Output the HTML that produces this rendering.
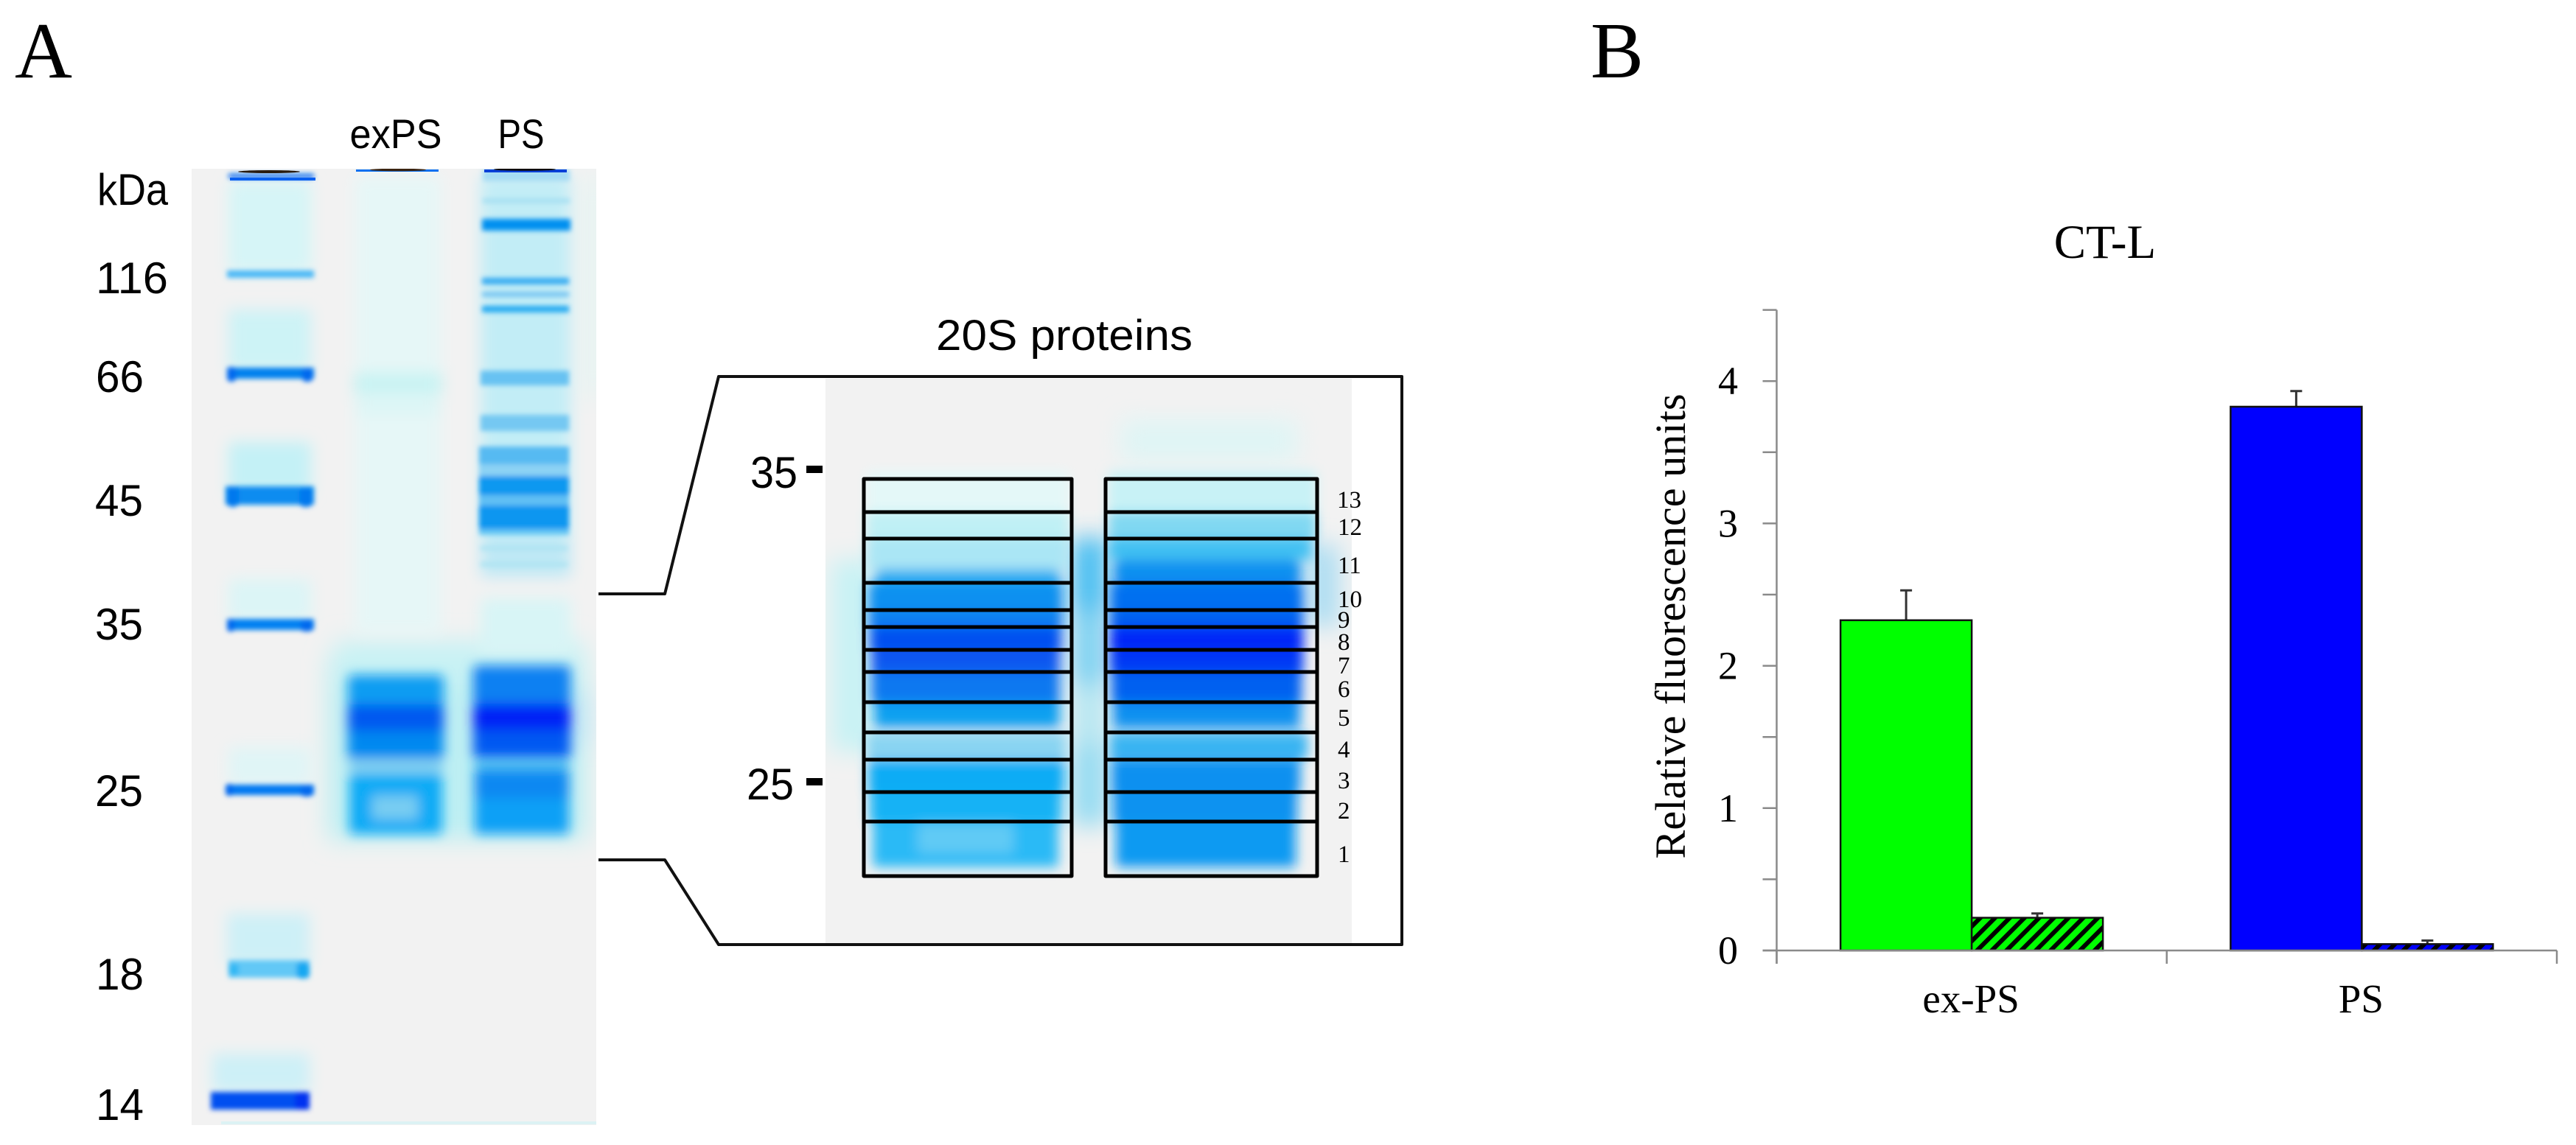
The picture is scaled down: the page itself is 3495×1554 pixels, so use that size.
<!DOCTYPE html>
<html lang="en">
<head>
<meta charset="utf-8">
<title>20S proteasome gel and CT-L activity</title>
<style>
html,body{margin:0;padding:0;background:#fff;width:3495px;height:1554px;overflow:hidden}
svg{display:block}
.sans{font-family:"Liberation Sans",sans-serif;fill:#000}
.serif{font-family:"Liberation Serif",serif;fill:#000}
</style>
</head>
<body>
<svg id="figure" xmlns="http://www.w3.org/2000/svg" width="3495" height="1554" viewBox="0 0 3495 1554">
<defs>
<filter id="b22" x="-50%" y="-50%" width="200%" height="200%"><feGaussianBlur stdDeviation="16"/></filter>
<filter id="b12" x="-30%" y="-30%" width="160%" height="160%"><feGaussianBlur stdDeviation="10"/></filter>
<filter id="b8" x="-30%" y="-50%" width="160%" height="200%"><feGaussianBlur stdDeviation="8"/></filter>
<filter id="b3" x="-20%" y="-150%" width="140%" height="400%"><feGaussianBlur stdDeviation="3.4"/></filter>
<clipPath id="gelClip"><rect x="260" y="229" width="549" height="1298"/></clipPath>
<clipPath id="insetClip"><rect x="1120" y="514" width="714" height="766"/></clipPath>
<pattern id="hatch-green" width="14.1" height="14.1" patternUnits="userSpaceOnUse" patternTransform="rotate(45)"><rect width="14.1" height="14.1" fill="#00ff00"/><rect width="6" height="14.1" fill="#000"/></pattern>
<pattern id="hatch-blue" width="14.1" height="14.1" patternUnits="userSpaceOnUse" patternTransform="rotate(45)"><rect width="14.1" height="14.1" fill="#0000ff"/><rect width="6" height="14.1" fill="#000"/></pattern>
</defs>
<rect x="0" y="0" width="3495" height="1554" fill="#fff"/>

<text class="serif" x="20" y="105" font-size="108">A</text>
<text class="serif" x="2158" y="105" font-size="108">B</text>

<!-- Gel -->
<g>
<rect x="260" y="229" width="549" height="1298" fill="#f2f2f2"/>
<g clip-path="url(#gelClip)">
<g filter="url(#b22)">
<rect x="445" y="890" width="350" height="250" fill="#bdeff3"/>
<rect x="455" y="870" width="335" height="60" fill="#c8f2f4"/>
<rect x="730" y="940" width="70" height="70" fill="#b8e6f4"/>
<rect x="790" y="240" width="30" height="300" fill="#e6f4f3"/>
</g>
<g filter="url(#b12)">
<rect x="310" y="246" width="112" height="124" fill="#d6f5f7"/>
<rect x="310" y="420" width="112" height="84" fill="#cdf3f6"/>
<rect x="310" y="600" width="112" height="72" fill="#c4f1f6"/>
<rect x="310" y="786" width="112" height="58" fill="#dcf5f6"/>
<rect x="310" y="1014" width="112" height="54" fill="#e0f5f6"/>
<rect x="308" y="1240" width="112" height="70" fill="#cdf0f7"/>
<rect x="288" y="1430" width="132" height="54" fill="#cdf0f7"/>
<rect x="482" y="240" width="116" height="620" fill="#e6f7f7"/>
<rect x="480" y="506" width="120" height="30" fill="#c8f3f3"/>
<rect x="482" y="546" width="116" height="14" fill="#d8f5f5"/>
<rect x="652" y="238" width="122" height="490" fill="#c2edf6"/>
<rect x="652" y="728" width="122" height="55" fill="#bee8f5"/>
<rect x="652" y="812" width="122" height="76" fill="#d8f5f6"/>
</g>
<g filter="url(#b3)">
<rect x="310" y="236" width="116" height="6" fill="#0a6ef2"/>
<rect x="308" y="367" width="118" height="10" fill="#4ab8f6"/>
<rect x="308" y="499" width="118" height="15" fill="#0480ee"/>
<rect x="306" y="660" width="120" height="25" fill="#0a8cf0"/>
<rect x="308" y="840" width="118" height="15" fill="#0680f2"/>
<rect x="308" y="1065" width="118" height="14" fill="#0678f2"/>
<rect x="310" y="1303" width="110" height="24" fill="#62c8f6"/>
<rect x="286" y="1482" width="134" height="24" fill="#0050f0"/>
<rect x="308" y="498" width="12" height="20" rx="5" fill="#0468ee"/><rect x="410" y="500" width="14" height="18" rx="5" fill="#0468ee"/>
<rect x="308" y="660" width="16" height="28" rx="7" fill="#0478ee"/><rect x="406" y="662" width="18" height="26" rx="7" fill="#0478ee"/>
<rect x="308" y="840" width="10" height="17" rx="4" fill="#0468ee"/><rect x="408" y="842" width="16" height="15" rx="5" fill="#0468ee"/>
<rect x="306" y="1064" width="10" height="16" rx="4" fill="#0468ee"/><rect x="408" y="1066" width="16" height="15" rx="5" fill="#0468ee"/>
<rect x="402" y="1306" width="18" height="22" rx="6" fill="#18a8f2"/><rect x="310" y="1308" width="14" height="16" rx="5" fill="#30b8f4"/>
<rect x="400" y="1482" width="20" height="24" rx="6" fill="#0030f0"/>
</g>
<g filter="url(#b3)">
<rect x="655" y="230" width="118" height="16" fill="#a4dcf4"/>
<rect x="655" y="269" width="118" height="7" fill="#a8e0f2"/>
<rect x="654" y="297" width="120" height="16" fill="#0590f0"/>
<rect x="654" y="377" width="118" height="9" fill="#38acf2"/>
<rect x="654" y="396" width="118" height="7" fill="#78c6f2"/>
<rect x="654" y="415" width="118" height="9" fill="#28aaf2"/>
<rect x="652" y="503" width="120" height="20" fill="#68c2f2"/>
<rect x="652" y="563" width="120" height="22" fill="#74c8f2"/>
<rect x="650" y="606" width="122" height="24" fill="#56baf2"/>
<rect x="650" y="630" width="122" height="16" fill="#8cd2f4"/>
<rect x="650" y="646" width="122" height="26" fill="#0898f0"/>
<rect x="650" y="672" width="122" height="14" fill="#60c0f4"/>
<rect x="650" y="686" width="122" height="32" fill="#0896f0"/>
<rect x="650" y="718" width="122" height="8" fill="#64c6f4"/>
<rect x="652" y="741" width="118" height="6" fill="#aee3f2"/>
<rect x="652" y="763" width="118" height="6" fill="#aee4f2"/>
</g>
<g filter="url(#b8)">
<rect x="472" y="916" width="130" height="40" rx="6" fill="#0a9cf2"/>
<rect x="472" y="956" width="130" height="36" fill="#0058f0"/>
<rect x="472" y="992" width="130" height="38" fill="#0488f0"/>
<rect x="474" y="1033" width="126" height="14" fill="#74caf0"/>
<rect x="474" y="1050" width="126" height="82" rx="4" fill="#0caaf6"/>
<rect x="505" y="1080" width="62" height="32" fill="#78cdf2"/>
</g>
<g filter="url(#b8)">
<rect x="642" y="903" width="132" height="52" rx="6" fill="#0880f2"/>
<rect x="642" y="955" width="132" height="36" fill="#0020f6"/>
<rect x="642" y="991" width="132" height="38" fill="#0058f2"/>
<rect x="644" y="1033" width="128" height="9" fill="#30baf2"/>
<rect x="644" y="1044" width="128" height="40" fill="#0a88f2"/>
<rect x="644" y="1084" width="128" height="48" rx="4" fill="#0aa0f6"/>
</g>
<g>
<rect x="312" y="241" width="116" height="4" fill="#0a60f0"/>
<rect x="483" y="230" width="112" height="3" fill="#0a70f0"/>
<rect x="657" y="230" width="112" height="4" fill="#0a40d8"/>
<ellipse cx="365" cy="233" rx="42" ry="2" fill="#2a1c10"/>
<ellipse cx="540" cy="230.5" rx="38" ry="1.8" fill="#3a2412"/>
<ellipse cx="712" cy="230" rx="42" ry="1.8" fill="#0c0804"/>
</g>
<rect x="300" y="1522" width="509" height="4" fill="#dcf2f4"/>
</g>
</g>

<text class="sans" x="537" y="201" font-size="56" text-anchor="middle" textLength="125" lengthAdjust="spacingAndGlyphs">exPS</text>
<text class="sans" x="707" y="201" font-size="56" text-anchor="middle" textLength="63" lengthAdjust="spacingAndGlyphs">PS</text>

<g>
<text class="sans" x="132" y="278" font-size="60" textLength="96" lengthAdjust="spacingAndGlyphs">kDa</text>
<text class="sans" x="130" y="398" font-size="60" textLength="98" lengthAdjust="spacingAndGlyphs">116</text>
<text class="sans" x="130" y="532" font-size="60" textLength="65" lengthAdjust="spacingAndGlyphs">66</text>
<text class="sans" x="129" y="700" font-size="60" textLength="65" lengthAdjust="spacingAndGlyphs">45</text>
<text class="sans" x="129" y="868" font-size="60" textLength="65" lengthAdjust="spacingAndGlyphs">35</text>
<text class="sans" x="129" y="1094" font-size="60" textLength="65" lengthAdjust="spacingAndGlyphs">25</text>
<text class="sans" x="130" y="1343" font-size="60" textLength="65" lengthAdjust="spacingAndGlyphs">18</text>
<text class="sans" x="130" y="1520" font-size="60" textLength="65" lengthAdjust="spacingAndGlyphs">14</text>
</g>

<!-- Inset -->
<text class="sans" x="1270" y="475" font-size="58" textLength="348" lengthAdjust="spacingAndGlyphs">20S proteins</text>
<rect x="1120" y="514" width="714" height="766" fill="#f2f2f2"/>
<g clip-path="url(#insetClip)">
<g filter="url(#b22)">
<rect x="1128" y="760" width="60" height="260" fill="#c8f2f4"/>
<rect x="1456" y="730" width="44" height="100" fill="#40bcf2"/>
<rect x="1456" y="830" width="44" height="100" fill="#78d0f2"/>
<rect x="1456" y="930" width="44" height="80" fill="#b4e6f2"/>
<rect x="1456" y="1010" width="44" height="110" fill="#90daf2"/>
<rect x="1520" y="570" width="240" height="56" fill="#dff5f5"/>
<rect x="1775" y="740" width="40" height="110" fill="#a8dcf2"/>
</g>
<g filter="url(#b8)">
<rect x="1176" y="640" width="274" height="55" fill="#e4f8f8"/>
<rect x="1176" y="695" width="274" height="36" fill="#bff0f5"/>
<rect x="1176" y="731" width="274" height="42" fill="#aae6f5"/>
<rect x="1186" y="773" width="254" height="18" rx="10" fill="#28aef2"/>
<rect x="1178" y="791" width="264" height="37" fill="#0a90f0"/>
<rect x="1178" y="828" width="264" height="23" fill="#0a80f0"/>
<rect x="1180" y="851" width="260" height="31" fill="#0650f0"/>
<rect x="1182" y="882" width="256" height="30" fill="#0856f0"/>
<rect x="1182" y="912" width="256" height="41" fill="#0878f0"/>
<rect x="1186" y="953" width="252" height="35" fill="#0aa0f0"/>
<rect x="1176" y="995" width="270" height="35" fill="#88d4f2"/>
<rect x="1178" y="1031" width="266" height="44" fill="#0aacf5"/>
<rect x="1180" y="1075" width="260" height="40" fill="#12b2f5"/>
<rect x="1184" y="1115" width="252" height="62" fill="#2cbaf6"/>
<rect x="1245" y="1118" width="130" height="40" fill="#60caf5"/>
</g>
<g filter="url(#b8)">
<rect x="1504" y="640" width="282" height="55" fill="#c8f2f6"/>
<rect x="1504" y="695" width="282" height="36" fill="#80d8f2"/>
<rect x="1504" y="731" width="276" height="29" fill="#40c0f2"/>
<rect x="1510" y="760" width="256" height="31" rx="12" fill="#0a90f0"/>
<rect x="1506" y="791" width="262" height="37" fill="#0070f0"/>
<rect x="1506" y="828" width="262" height="23" fill="#0060f0"/>
<rect x="1506" y="851" width="262" height="31" fill="#0028f8"/>
<rect x="1506" y="882" width="262" height="30" fill="#0038f5"/>
<rect x="1508" y="912" width="258" height="41" fill="#0060f0"/>
<rect x="1510" y="953" width="254" height="35" fill="#0a90f0"/>
<rect x="1506" y="995" width="268" height="35" fill="#38b4f2"/>
<rect x="1508" y="1031" width="256" height="44" fill="#0a90f0"/>
<rect x="1510" y="1075" width="250" height="40" fill="#0a92f0"/>
<rect x="1514" y="1115" width="244" height="62" fill="#0a9af2"/>
</g>
</g>
<g fill="none" stroke="#000" stroke-width="5" stroke-linejoin="round">
<rect x="1172" y="650" width="282" height="539"/>
<rect x="1500" y="650" width="287" height="539"/>
<path id="fractionLines" d="M1172 695H1454M1500 695H1787M1172 731H1454M1500 731H1787M1172 791H1454M1500 791H1787M1172 828H1454M1500 828H1787M1172 851H1454M1500 851H1787M1172 882H1454M1500 882H1787M1172 912H1454M1500 912H1787M1172 953H1454M1500 953H1787M1172 994H1454M1500 994H1787M1172 1031H1454M1500 1031H1787M1172 1075H1454M1500 1075H1787M1172 1115H1454M1500 1115H1787"/>
</g>
<g>
<text class="serif" x="1814" y="689" font-size="33">13</text>
<text class="serif" x="1815" y="726" font-size="33">12</text>
<text class="serif" x="1815" y="778" font-size="33">11</text>
<text class="serif" x="1815" y="824" font-size="33">10</text>
<text class="serif" x="1815" y="852" font-size="33">9</text>
<text class="serif" x="1815" y="882" font-size="33">8</text>
<text class="serif" x="1815" y="914" font-size="33">7</text>
<text class="serif" x="1815" y="946" font-size="33">6</text>
<text class="serif" x="1815" y="985" font-size="33">5</text>
<text class="serif" x="1815" y="1028" font-size="33">4</text>
<text class="serif" x="1815" y="1070" font-size="33">3</text>
<text class="serif" x="1815" y="1111" font-size="33">2</text>
<text class="serif" x="1815" y="1170" font-size="33">1</text>
</g>
<text class="sans" x="1018" y="662" font-size="60" textLength="64" lengthAdjust="spacingAndGlyphs">35</text>
<text class="sans" x="1013" y="1085" font-size="60" textLength="64" lengthAdjust="spacingAndGlyphs">25</text>
<rect x="1094" y="632" width="22" height="10" fill="#000"/>
<rect x="1094" y="1056" width="22" height="10" fill="#000"/>
<path d="M812 806H902L975 511H1902V1282H975L902 1167H812" fill="none" stroke="#111" stroke-width="4" stroke-linejoin="round"/>

<!-- Chart B -->
<g id="chartB"></g>
</svg>

<script>
const categories = ['ex-PS', 'PS'];
const solidValues = [2.32, 3.82];
const solidErrors = [0.21, 0.11];
const hatchedValues = [0.23, 0.045];
const hatchedErrors = [0.03, 0.025];
const yTickValues = [0, 0.5, 1, 1.5, 2, 2.5, 3, 3.5, 4, 4.5];
const yTickLabels = ['0', '', '1', '', '2', '', '3', '', '4', ''];
const solidColors = ['#00ff00', '#0000ff'];
const hatchFills = ['url(#hatch-green)', 'url(#hatch-blue)'];
const chartTitle = 'CT-L';
const yAxisTitle = 'Relative fluorescence units';

const NS = 'http://www.w3.org/2000/svg';
const chart = document.getElementById('chartB');
const plotLeft = 2410.5, plotRight = 3469, plotBottom = 1290, unitHeight = 193.2, barWidth = 178;
const yScale = function (v) { return plotBottom - v * unitHeight; };
const bandWidth = (plotRight - plotLeft) / categories.length;
const xCenter = function (i) { return plotLeft + bandWidth * (i + 0.5); };

function make(tag, attrs) {
  const el = document.createElementNS(NS, tag);
  for (const k in attrs) { el.setAttribute(k, attrs[k]); }
  chart.appendChild(el);
  return el;
}
function drawError(cx, top, bottom) {
  const stem = make('line', { x1: cx, x2: cx, y1: top, y2: bottom, stroke: '#333', 'stroke-width': 3 });
  
  
  const cap = make('line', { x1: cx - 8, x2: cx + 8, y1: top, y2: top, stroke: '#333', 'stroke-width': 3 });
  
  
}

categories.forEach(function (name, i) {
  const c = xCenter(i);
  const solidTop = yScale(solidValues[i]);
  const hatchTop = yScale(hatchedValues[i]);
  drawError(c - barWidth / 2, yScale(solidValues[i] + solidErrors[i]), solidTop);
  drawError(c + barWidth / 2, yScale(hatchedValues[i] + hatchedErrors[i]), hatchTop);
  const solid = make('rect', { x: c - barWidth, y: solidTop, width: barWidth, height: plotBottom - solidTop, fill: solidColors[i], stroke: '#111', 'stroke-width': 2.5 });
  
  
  const hatched = make('rect', { x: c, y: hatchTop, width: barWidth, height: plotBottom - hatchTop, fill: hatchFills[i], stroke: '#111', 'stroke-width': 2.5 });
  
  
  const label = make('text', { x: c - 1, y: 1374, 'text-anchor': 'middle', 'font-size': 55, class: 'serif' });
  label.textContent = name;
  
  
});

const yAxis = make('line', { x1: plotLeft, x2: plotLeft, y1: yScale(4.5), y2: plotBottom + 18, stroke: '#8a8a8a', 'stroke-width': 2.5 });


const xAxis = make('line', { x1: plotLeft - 19, x2: plotRight, y1: plotBottom, y2: plotBottom, stroke: '#8a8a8a', 'stroke-width': 2.5 });



yTickValues.forEach(function (v, i) {
  const tick = make('line', { x1: plotLeft - 19, x2: plotLeft, y1: yScale(v), y2: yScale(v), stroke: '#8a8a8a', 'stroke-width': 2.5 });
  
  
  if (yTickLabels[i]) {
    const t = make('text', { x: 2358, y: yScale(v) + 18, 'text-anchor': 'end', 'font-size': 54, class: 'serif' });
    t.textContent = yTickLabels[i];
    
    
  }
});
categories.concat(['end']).forEach(function (_, i) {
  const px = plotLeft + bandWidth * i;
  const tick = make('line', { x1: px, x2: px, y1: plotBottom, y2: plotBottom + 18, stroke: '#8a8a8a', 'stroke-width': 2.5 });
  
  
});

const titleEl = make('text', { x: 2856, y: 350, 'text-anchor': 'middle', 'font-size': 65, class: 'serif' });
titleEl.textContent = chartTitle;



const yTitleEl = make('text', { x: 0, y: 0, 'text-anchor': 'middle', 'font-size': 58, class: 'serif', textLength: 631, lengthAdjust: 'spacingAndGlyphs', transform: 'translate(2286 850) rotate(-90)' });
yTitleEl.textContent = yAxisTitle;


</script>
</body>
</html>
